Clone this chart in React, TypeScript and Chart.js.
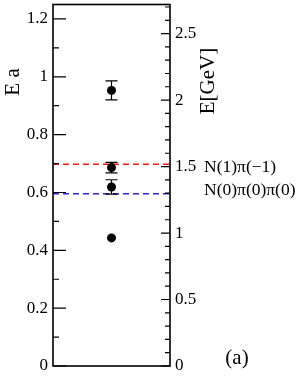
import React, { useEffect, useRef } from 'react';
import { Chart, registerables } from 'chart.js';

Chart.register(...registerables);

// ---- data ----
const xPosition = [0.5, 0.5, 0.5, 0.5];
const energyA = [0.953, 0.686, 0.619, 0.443];
const errorA = [0.033, 0.018, 0.025, 0.005];
const thresholdNames = ['N(1)π(−1)', 'N(0)π(0)π(0)'];
const thresholdA = [0.698, 0.596];
const thresholdColors = ['#ff1a1a', '#2a2ac8'];
const aInverseGeV = 2.175;
const yMaxA = 1.25;
const leftTitle = 'E a';
const rightTitle = 'E[GeV]';
const panelLabel = '(a)';

const SERIF = '"Liberation Serif", "DejaVu Serif", serif';

const fmt = (v: number) => String(Math.round(v * 10) / 10);

const overlay = {
  id: 'overlay',
  afterDatasetsDraw(chart: any) {
    const { ctx, chartArea: a, scales } = chart;
    const x = scales.x;
    const y = scales.y;
    const y2 = scales.y2;
    ctx.save();
    // error bars
    ctx.strokeStyle = '#000';
    ctx.lineWidth = 1.2;
    energyA.forEach((v, i) => {
      const px = x.getPixelForValue(xPosition[i]);
      const top = y.getPixelForValue(v + errorA[i]);
      const bot = y.getPixelForValue(v - errorA[i]);
      ctx.beginPath();
      ctx.moveTo(px, top);
      ctx.lineTo(px, bot);
      if (errorA[i] > 0.008) {
        ctx.moveTo(px - 6, top);
        ctx.lineTo(px + 6, top);
        ctx.moveTo(px - 6, bot);
        ctx.lineTo(px + 6, bot);
      }
      ctx.stroke();
    });
    // inward tick marks
    ctx.lineWidth = 1.2;
    ctx.beginPath();
    y.ticks.forEach((t: any) => {
      const py = y.getPixelForValue(t.value);
      const len = t.label !== '' ? 13 : 6;
      ctx.moveTo(a.left, py);
      ctx.lineTo(a.left + len, py);
    });
    y2.ticks.forEach((t: any) => {
      const py = y2.getPixelForValue(t.value);
      const len = t.label !== '' ? 9 : 5;
      ctx.moveTo(a.right, py);
      ctx.lineTo(a.right - len, py);
    });
    ctx.stroke();
    // frame
    ctx.lineWidth = 1.6;
    ctx.strokeRect(a.left, a.top, a.right - a.left, a.bottom - a.top);
    // threshold labels
    ctx.fillStyle = '#000';
    ctx.font = `17.5px ${SERIF}`;
    ctx.textAlign = 'left';
    ctx.textBaseline = 'alphabetic';
    const offsets = [7.5, 1.5];
    thresholdA.forEach((v, i) => {
      ctx.fillText(thresholdNames[i], a.right + 34, y.getPixelForValue(v) + offsets[i]);
    });
    // axis titles
    ctx.font = `21px ${SERIF}`;
    ctx.textAlign = 'center';
    ctx.textBaseline = 'middle';
    ctx.save();
    ctx.translate(13, 82);
    ctx.rotate(-Math.PI / 2);
    ctx.fillText(leftTitle, 0, 0);
    ctx.restore();
    ctx.save();
    ctx.translate(a.right + 38, 81);
    ctx.rotate(-Math.PI / 2);
    ctx.fillText(rightTitle, 0, 0);
    ctx.restore();
    // panel label
    ctx.font = `21px ${SERIF}`;
    ctx.fillText(panelLabel, a.right + 67, a.bottom - 8);
    ctx.restore();
  },
};

export default function App() {
  const ref = useRef<HTMLCanvasElement>(null);
  useEffect(() => {
    if (!ref.current) return;
    const tickFont = { family: SERIF, size: 17 };
    const chart = new Chart(ref.current, {
      type: 'scatter',
      data: {
        datasets: [
          {
            type: 'scatter',
            data: energyA.map((v, i) => ({ x: xPosition[i], y: v })),
            pointRadius: 4.5,
            pointHoverRadius: 4.5,
            backgroundColor: '#000',
            borderColor: '#000',
            borderWidth: 0,
          },
          ...thresholdA.map((v, i) => ({
            type: 'line' as const,
            data: [
              { x: 0, y: v },
              { x: 1, y: v },
            ],
            borderColor: thresholdColors[i],
            borderWidth: 1.5,
            borderDash: [6, 4],
            pointRadius: 0,
            fill: false,
          })),
        ],
      },
      options: {
        animation: false,
        responsive: false,
        devicePixelRatio: 1,
        layout: { padding: { left: 0, right: 0, top: 4, bottom: 16 } },
        plugins: { legend: { display: false }, tooltip: { enabled: false } },
        scales: {
          x: { type: 'linear', min: 0, max: 1, display: false },
          y: {
            type: 'linear',
            position: 'left',
            min: 0,
            max: yMaxA,
            afterFit: (s: any) => {
              s.width = 53;
              s.paddingTop = 0;
              s.paddingBottom = 0;
            },
            ticks: {
              stepSize: 0.1,
              includeBounds: false,
              autoSkip: false,
              padding: 5,
              color: '#000',
              font: tickFont,
              callback: (v: any) => (Math.round(Number(v) * 10) % 2 === 0 ? fmt(Number(v)) : ''),
            },
            grid: { display: true, drawOnChartArea: false, drawTicks: false },
            border: { display: false },
          },
          y2: {
            type: 'linear',
            position: 'right',
            min: 0,
            max: yMaxA * aInverseGeV,
            afterFit: (s: any) => {
              s.width = 133;
              s.paddingTop = 0;
              s.paddingBottom = 0;
            },
            ticks: {
              stepSize: 0.1,
              includeBounds: false,
              autoSkip: false,
              padding: 5,
              color: '#000',
              font: tickFont,
              callback: (v: any) => (Math.round(Number(v) * 10) % 5 === 0 ? fmt(Number(v)) : ''),
            },
            grid: { display: true, drawOnChartArea: false, drawTicks: false },
            border: { display: false },
          },
        },
      },
      plugins: [overlay],
    });
    return () => chart.destroy();
  }, []);
  return (
    <div style={{ position: 'fixed', left: 0, top: 0, width: 303, height: 382, background: '#fff' }}>
      <canvas ref={ref} width={303} height={382} style={{ width: 303, height: 382, display: 'block' }} />
    </div>
  );
}
